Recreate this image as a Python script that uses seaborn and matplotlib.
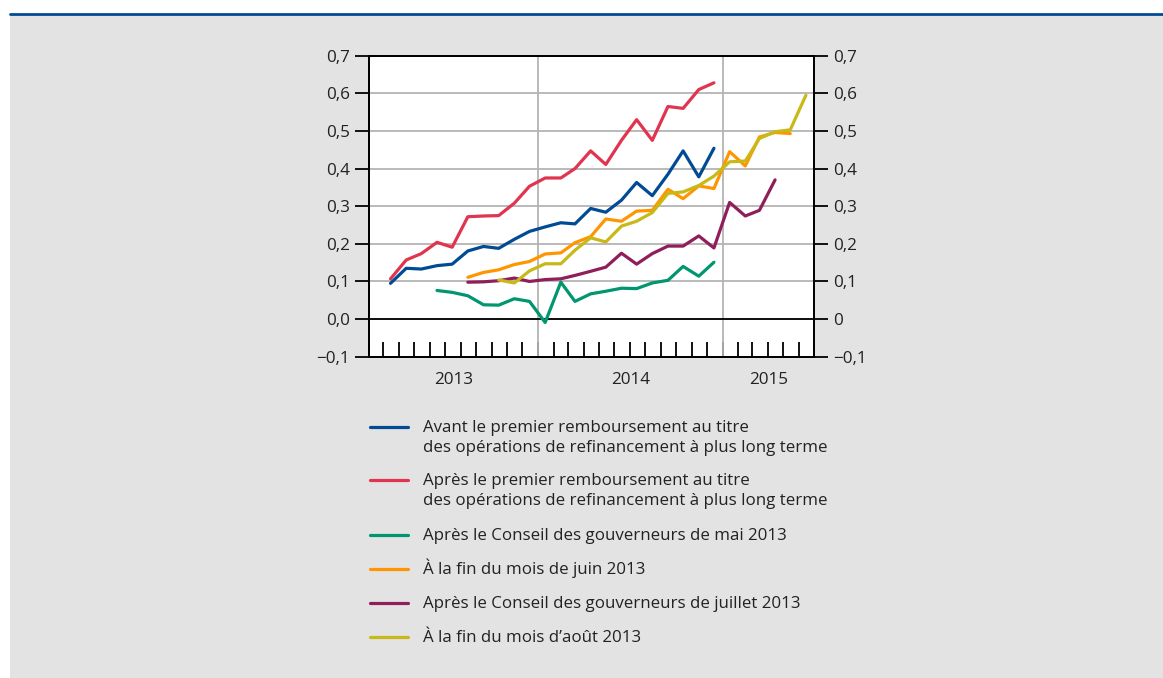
import numpy as np
import pandas as pd
import matplotlib
matplotlib.use("Agg")
import matplotlib.pyplot as plt
import matplotlib.dates as mdates
from matplotlib.lines import Line2D
from matplotlib.patches import Rectangle
import seaborn as sns

# Courbes (en % par an), un point par milieu de mois
labels = [
    "Avant le premier remboursement au titre\ndes opérations de refinancement à plus long terme",
    "Après le premier remboursement au titre\ndes opérations de refinancement à plus long terme",
    "Après le Conseil des gouverneurs de mai 2013",
    "À la fin du mois de juin 2013",
    "Après le Conseil des gouverneurs de juillet 2013",
    "À la fin du mois d’août 2013",
]
colors = ["#004b94", "#e0344f", "#009670", "#ff9600", "#8f1e5a", "#c8b918"]
starts = ["2013-03", "2013-03", "2013-06", "2013-08", "2013-08", "2013-10"]

avant = [0.095, 0.135, 0.133, 0.142, 0.146, 0.181, 0.193, 0.188, 0.212, 0.233, 0.245,
         0.256, 0.253, 0.294, 0.284, 0.316, 0.363, 0.328, 0.385, 0.447, 0.378, 0.454]
apres = [0.107, 0.157, 0.174, 0.204, 0.191, 0.272, 0.274, 0.275, 0.308, 0.353, 0.375,
         0.375, 0.400, 0.447, 0.411, 0.475, 0.530, 0.475, 0.565, 0.560, 0.610, 0.628]
mai = [0.076, 0.071, 0.062, 0.038, 0.037, 0.054, 0.047, -0.009, 0.098, 0.047, 0.067,
       0.074, 0.082, 0.081, 0.096, 0.103, 0.140, 0.114, 0.151]
juin = [0.111, 0.124, 0.131, 0.145, 0.153, 0.173, 0.176, 0.203, 0.219, 0.266, 0.260,
        0.287, 0.289, 0.345, 0.320, 0.354, 0.347, 0.445, 0.407, 0.484, 0.496, 0.493]
juillet = [0.098, 0.099, 0.102, 0.109, 0.100, 0.105, 0.107, 0.116, 0.127, 0.138, 0.175,
           0.146, 0.174, 0.194, 0.194, 0.221, 0.189, 0.310, 0.274, 0.289, 0.370]
aout = [0.104, 0.096, 0.128, 0.147, 0.147, 0.183, 0.216, 0.205, 0.247, 0.260, 0.283,
        0.334, 0.338, 0.355, 0.380, 0.418, 0.420, 0.480, 0.498, 0.503, 0.595]
series = [avant, apres, mai, juin, juillet, aout]

yticks = [-0.1, 0.0, 0.1, 0.2, 0.3, 0.4, 0.5, 0.6, 0.7]
left_labels = ["−0,1", "0,0", "0,1", "0,2", "0,3", "0,4", "0,5", "0,6", "0,7"]
right_labels = ["−0,1", "0", "0,1", "0,2", "0,3", "0,4", "0,5", "0,6", "0,7"]
years = ["2013", "2014", "2015"]

frames = []
for lab, start, vals in zip(labels, starts, series):
    dates = pd.date_range(start, periods=len(vals), freq="MS") + pd.Timedelta(days=14)
    frames.append(pd.DataFrame({"date": dates, "valeur": vals, "serie": lab}))
df = pd.concat(frames, ignore_index=True)

sns.set_theme(style="white")
plt.rcParams["font.family"] = ["Open Sans", "DejaVu Sans"]

W, H = 1163, 678
fig = plt.figure(figsize=(W / 100, H / 100), dpi=100)
fig.patch.set_facecolor("white")
fig.add_artist(Rectangle((10 / W, 0), 1, 1 - 15 / H, transform=fig.transFigure,
                         facecolor="#e3e3e3", edgecolor="none", zorder=0))
fig.add_artist(Line2D([10 / W, 1], [1 - 14 / H] * 2, color="#004b94", lw=2))

ax = fig.add_axes([369.3 / W, 1 - 356.7 / H, (814 - 369.3) / W, (356.7 - 55.7) / H])
ax.set_facecolor("white")

xmin, xmax = pd.Timestamp("2013-02-01"), pd.Timestamp("2015-07-01")
ax.yaxis.grid(True, color="#b4b4b4", lw=1.3)
for y0 in ["2014-01-01", "2015-01-01"]:
    ax.axvline(pd.Timestamp(y0), color="#b4b4b4", lw=1.3, zorder=1)
ax.axhline(0, color="black", lw=1.3, zorder=1)

sns.lineplot(data=df, x="date", y="valeur", hue="serie", hue_order=labels,
             palette=colors, lw=2.3, ax=ax, legend=False, estimator=None, zorder=3)

ax.set_xlim(xmin, xmax)
ax.set_ylim(-0.1, 0.7)
ax.set_xlabel("")
ax.set_ylabel("")
ax.set_yticks(yticks)
ax.set_yticklabels(left_labels)

ax.xaxis.set_major_locator(mdates.MonthLocator())
ax.tick_params(axis="x", which="major", direction="in", length=11, width=1.3,
               color="black", labelbottom=False, bottom=True)
spans = [(xmin, pd.Timestamp("2014-01-01")),
         (pd.Timestamp("2014-01-01"), pd.Timestamp("2015-01-01")),
         (pd.Timestamp("2015-01-01"), xmax)]
centers = [a + (b - a) / 2 for a, b in spans]
ax.set_xticks(centers, minor=True)
ax.set_xticklabels(years, minor=True)
ax.tick_params(axis="x", which="minor", length=0, pad=11, labelsize=12.3, colors="#222222")
ax.tick_params(axis="y", direction="out", length=10, width=1.3, color="black",
               left=True, pad=4, labelsize=12.3, labelcolor="#222222")

for s in ax.spines.values():
    s.set_color("black")
    s.set_linewidth(1.3)

ax2 = ax.twinx()
ax2.set_ylim(-0.1, 0.7)
ax2.set_yticks(yticks)
ax2.set_yticklabels(right_labels)
ax2.grid(False)
ax2.tick_params(axis="y", direction="out", length=10, width=1.3, color="black",
                right=True, pad=4, labelsize=12.3, labelcolor="#222222")
for s in ax2.spines.values():
    s.set_color("black")
    s.set_linewidth(1.3)

# légende
leg_y = [427, 480, 535, 569, 603, 637]
for lab, col, yp in zip(labels, colors, leg_y):
    fy = 1 - yp / H
    fig.add_artist(Line2D([370 / W, 408 / W], [fy, fy], color=col, lw=2.3))
    for i, ligne in enumerate(lab.split("\n")):
        fig.text(423 / W, 1 - (yp + 5 + 20 * i) / H, ligne, fontsize=12.2,
                 color="#222222", va="baseline", ha="left")

fig.savefig("out.png", dpi=100)
